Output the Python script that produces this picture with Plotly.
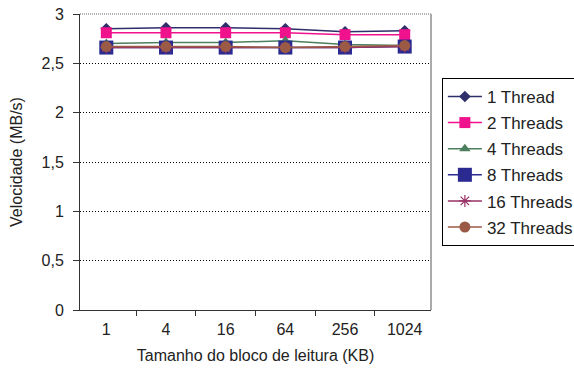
import plotly.graph_objects as go

categories = ["1", "4", "16", "64", "256", "1024"]
series_names = ["1 Thread", "2 Threads", "4 Threads", "8 Threads", "16 Threads", "32 Threads"]
v1 = [2.85, 2.86, 2.86, 2.85, 2.82, 2.83]
v2 = [2.81, 2.81, 2.81, 2.81, 2.79, 2.79]
v4 = [2.70, 2.71, 2.71, 2.73, 2.69, 2.68]
v8 = [2.66, 2.66, 2.66, 2.66, 2.66, 2.67]
v16 = [2.66, 2.66, 2.66, 2.66, 2.66, 2.67]
v32 = [2.67, 2.67, 2.67, 2.66, 2.67, 2.68]
y_ticks = [0, 0.5, 1, 1.5, 2, 2.5, 3]
y_labels = ["0", "0,5", "1", "1,5", "2", "2,5", "3"]

styles = [
    dict(color="#2E2E6B", symbol="diamond", size=9),
    dict(color="#F0118C", symbol="square", size=11),
    dict(color="#4C7F5E", symbol="triangle-up", size=10),
    dict(color="#2A2A90", symbol="square", size=14),
    dict(color="#993366", symbol="asterisk-open", size=10),
    dict(color="#9A5A45", symbol="circle", size=11),
]
values = [v1, v2, v4, v8, v16, v32]

fig = go.Figure()
for name, vals, st in zip(series_names, values, styles):
    mk = dict(color=st["color"], symbol=st["symbol"], size=st["size"])
    if st["symbol"] == "asterisk-open":
        mk["line"] = dict(color=st["color"], width=1.2)
    fig.add_trace(go.Scatter(
        x=categories, y=vals, name=name, mode="lines+markers",
        line=dict(color=st["color"], width=1.5), marker=mk,
        legendgroup=name,
    ))

font = "Liberation Sans, Arial, sans-serif"
fig.update_layout(
    width=574, height=375,
    margin=dict(l=80, r=143, t=14, b=65, autoexpand=False),
    paper_bgcolor="white", plot_bgcolor="white",
    font=dict(family=font, size=16, color="#222"),
    showlegend=True,
    legend=dict(x=1.031, y=0.784, xanchor="left", yanchor="top",
                bordercolor="black", borderwidth=1, bgcolor="white",
                font=dict(size=17, family=font, color="#222"),
                traceorder="grouped", tracegroupgap=1,
                itemwidth=34),
    xaxis=dict(type="category", showline=True, linecolor="#333", linewidth=1,
               ticks="outside", ticklen=5, tickcolor="#333", tickson="boundaries",
               showgrid=False,
               title=dict(text="Tamanho do bloco de leitura (KB)", standoff=12,
                          font=dict(size=16, family=font, color="#222")),
               tickfont=dict(size=16), ticklabelstandoff=5),
    yaxis=dict(range=[0, 3], tickvals=y_ticks, ticktext=y_labels,
               showline=True, linecolor="#333", linewidth=1,
               ticks="outside", ticklen=6, tickcolor="#333",
               showgrid=True, gridcolor="black", griddash="1px,2px", gridwidth=1,
               zeroline=False,
               title=dict(text="Velocidade (MB/s)", standoff=14,
                          font=dict(size=16, family=font, color="#222")),
               tickfont=dict(size=16), ticklabelstandoff=6),
    shapes=[
        dict(type="line", xref="paper", yref="paper", x0=0, x1=1, y0=1, y1=1,
             line=dict(color="#999999", width=1.5, dash="1px,1px")),
        dict(type="line", xref="paper", yref="paper", x0=1, x1=1, y0=0, y1=1,
             line=dict(color="#aaaaaa", width=2)),
    ],
)

fig.write_html("out.html")
